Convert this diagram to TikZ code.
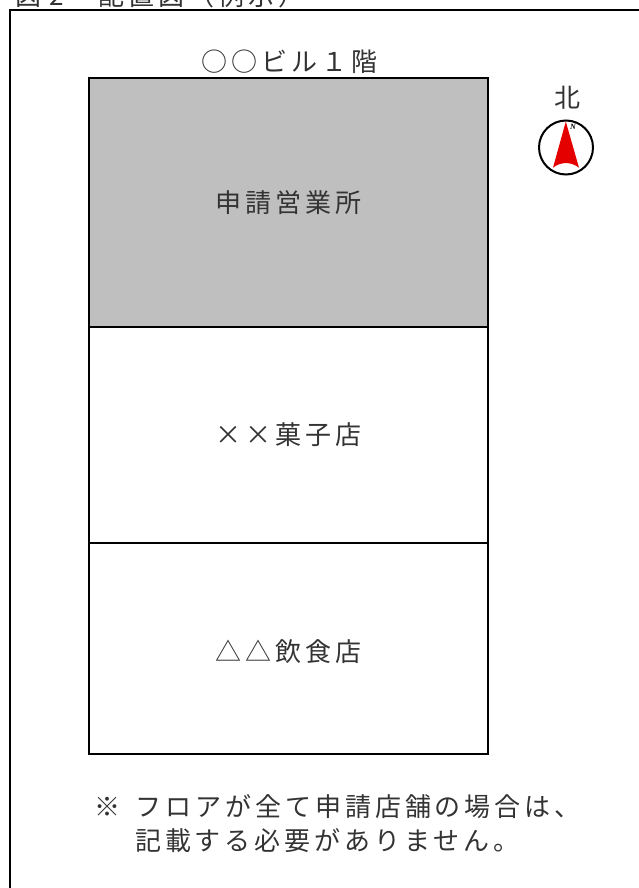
\documentclass[tikz,border=0pt]{standalone}
\usepackage{fontspec}
\setmainfont{Noto Sans CJK JP}
\newfontfamily\jpa[LetterSpace=15]{Noto Sans CJK JP}
\newfontfamily\lat{Liberation Serif}
\tikzset{
  room/.style={draw=black,line width=2.2pt,outer sep=0pt,minimum width=399pt,anchor=north west,inner sep=0pt,font=\fontsize{26}{26}\jpa,text=black!80},
  label/.style={inner sep=0pt,font=\fontsize{26}{26}\jpa,text=black!80},
  frameline/.style={draw=black,line width=2.4pt}
}
\begin{document}
\begin{tikzpicture}[x=1pt,y=-1pt]
\useasboundingbox (0,0) rectangle (639,888);
\clip (0,0) rectangle (639,888);
\node[label,anchor=west] (title) at (15,-4) {図\hspace{8pt}2\hspace{35pt}配置図（例示）};
\coordinate (ftl) at (10,10.3);
\coordinate (ftr) at (660,10.3);
\coordinate (fbl) at (10,900);
\draw[frameline] (fbl) -- (ftl) -- (ftr);
\node[room,fill=black!25,minimum height=249pt] (a) at (88.8,78) {申請営業所};
\node[room,minimum height=216pt] (b) at (88.8,327) {××菓子店};
\node[room,minimum height=211pt] (c) at (88.8,543) {};
\node[label] (clabel) at (288.5,652) {△△飲食店};
\node[label] (bld) at (289.5,62) {○○ビル１階};
\node[label] (north) at (567.5,98) {北};
\coordinate (cc) at (566,147.5);
\draw[line width=2pt,fill=white] (cc) circle (27);
\fill[red!90!black] (565.8,121.5) -- (579,167.7) .. controls (571,161.5) and (561,161.5) .. (553,167.7) -- cycle;
\node[inner sep=0pt,font=\fontsize{8}{8}\lat\itshape\bfseries] (n) at (573,127) {N};
\node[label,anchor=west] (n1) at (94,807) {※\hspace{6pt} フロアが全て申請店舗の場合は、};
\node[label,anchor=west] (n2) at (135,841) {記載する必要がありません。};
\end{tikzpicture}
\end{document}
